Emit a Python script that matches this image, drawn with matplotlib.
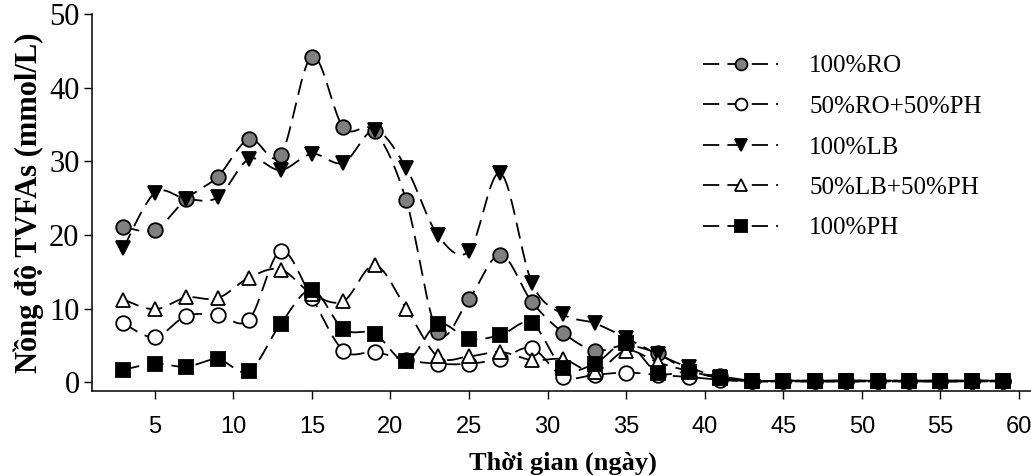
import numpy as np
import matplotlib
matplotlib.use("Agg")
import matplotlib.pyplot as plt
from matplotlib.lines import Line2D

# ---- data ----
days = [3, 5, 7, 9, 11, 13, 15, 17, 19, 21, 23, 25, 27, 29, 31, 33, 35, 37, 39, 41,
        43, 45, 47, 49, 51, 53, 55, 57, 59]
ro100 = [21.1, 20.7, 24.9, 27.9, 33.0, 30.8, 44.2, 34.6, 34.1, 24.7, 6.8, 11.3, 17.3, 10.9,
         6.7, 4.3, 5.0, 3.9, 1.5, 0.8, 0.2, 0.2, 0.2, 0.2, 0.2, 0.2, 0.2, 0.2, 0.2]
ro50ph50 = [8.0, 6.1, 9.0, 9.1, 8.5, 17.8, 11.4, 4.3, 4.1, 3.0, 2.5, 2.5, 3.2, 4.6,
            0.7, 1.0, 1.3, 1.0, 0.7, 0.3, 0.1, 0.1, 0.1, 0.1, 0.1, 0.1, 0.1, 0.1, 0.1]
lb100 = [18.2, 25.7, 24.9, 25.1, 30.3, 28.8, 31.0, 29.8, 34.2, 29.1, 20.0, 17.8, 28.4, 13.5,
         9.2, 8.0, 6.0, 3.8, 2.0, 0.7, 0.2, 0.2, 0.2, 0.2, 0.2, 0.2, 0.2, 0.2, 0.2]
lb50ph50 = [11.2, 9.9, 11.5, 11.4, 14.2, 15.3, 12.0, 11.0, 15.9, 10.0, 3.5, 3.5, 4.1, 3.0,
            3.1, 1.4, 4.3, 2.7, 1.5, 0.6, 0.2, 0.2, 0.2, 0.2, 0.2, 0.2, 0.2, 0.2, 0.2]
ph100 = [1.7, 2.5, 2.1, 3.1, 1.5, 7.9, 12.5, 7.2, 6.6, 2.9, 7.9, 5.9, 6.4, 8.0,
         1.9, 2.5, 5.3, 1.3, 1.4, 0.5, 0.1, 0.1, 0.1, 0.1, 0.1, 0.1, 0.1, 0.1, 0.1]

labels = ["100%RO", "50%RO+50%PH", "100%LB", "50%LB+50%PH", "100%PH"]
series = [ro100, ro50ph50, lb100, lb50ph50, ph100]
markers = ["o", "o", "v", "^", "s"]
faces = ["#808080", "white", "black", "white", "black"]

xticks = [5, 10, 15, 20, 25, 30, 35, 40, 45, 50, 55, 60]
yticks = [0, 10, 20, 30, 40, 50]


def smooth(x, y, n=20):
    """Catmull-Rom curve through the points (drawing style, like a smoothed line)."""
    P = np.column_stack([np.asarray(x, float), np.asarray(y, float)])
    P = np.vstack([P[0], P, P[-1]])
    t = np.linspace(0, 1, n, endpoint=False)[:, None]
    h00 = 2 * t**3 - 3 * t**2 + 1
    h10 = t**3 - 2 * t**2 + t
    h01 = -2 * t**3 + 3 * t**2
    h11 = t**3 - t**2
    out = []
    for i in range(1, len(P) - 2):
        p0, p1, p2, p3 = P[i - 1], P[i], P[i + 1], P[i + 2]
        m1 = (p2 - p0) * 0.5
        m2 = (p3 - p1) * 0.5
        out.append(h00 * p1 + h10 * m1 + h01 * p2 + h11 * m2)
    out.append(P[-2][None, :])
    C = np.vstack(out)
    return C[:, 0], C[:, 1]


W, H = 1031, 476
fig = plt.figure(figsize=(W / 100, H / 100), dpi=100)
ax_left = 92 / W
ax_bottom = (H - 391) / H
ax_width = 60 * 15.71 / W
ax_height = (391 - 14) / H
ax = fig.add_axes([ax_left, ax_bottom, ax_width, ax_height])

dash = (0, (9, 4.5))
handles = []
for vals, lab, m, fc in zip(series, labels, markers, faces):
    sx, sy = smooth(days, vals)
    ax.plot(sx, sy, color="black", lw=1.3, linestyle=dash, zorder=2)
    ax.plot(days, vals, linestyle="none", marker=m, markersize=10.5,
            markerfacecolor=fc, markeredgecolor="black", markeredgewidth=1.3, zorder=3)
    handles.append(Line2D([0], [0], color="black", lw=1.3, linestyle=dash, marker=m,
                          markersize=8.5, markerfacecolor=fc, markeredgecolor="black",
                          markeredgewidth=1.3))

ax.set_xlim(1, 61)
ax.set_ylim(-1.2, 50)
ax.set_xticks(xticks)
ax.set_yticks(yticks)
ax.spines["top"].set_visible(False)
ax.spines["right"].set_visible(False)
for s in ("left", "bottom"):
    ax.spines[s].set_linewidth(1.1)
ax.tick_params(axis="both", direction="out", length=6, width=1.0)
ax.tick_params(axis="x", pad=12)
ax.tick_params(axis="y", pad=3)
for t in ax.get_xticklabels():
    t.set_fontfamily(["Liberation Sans", "DejaVu Sans"])
    t.set_fontsize(17)
for t in ax.get_yticklabels():
    t.set_fontfamily(["Liberation Serif", "DejaVu Serif"])
    t.set_fontsize(22)

ax.set_xlabel("Thời gian (ngày)", fontfamily=["Liberation Serif", "DejaVu Serif"],
              fontweight="bold", fontsize=19, labelpad=10)
ax.set_ylabel("Nồng độ TVFAs (mmol/L)", fontfamily=["Liberation Serif", "DejaVu Serif"],
              fontweight="bold", fontsize=22, labelpad=4)

leg = fig.legend(handles, labels, loc="upper left",
                 bbox_to_anchor=(703 / W, 1 - 55 / H),
                 frameon=False, borderpad=0, borderaxespad=0,
                 handlelength=3.0, handletextpad=1.25, labelspacing=0.72,
                 prop={"family": ["Liberation Serif", "DejaVu Serif"], "size": 18})

fig.savefig("out.png", dpi=100)
